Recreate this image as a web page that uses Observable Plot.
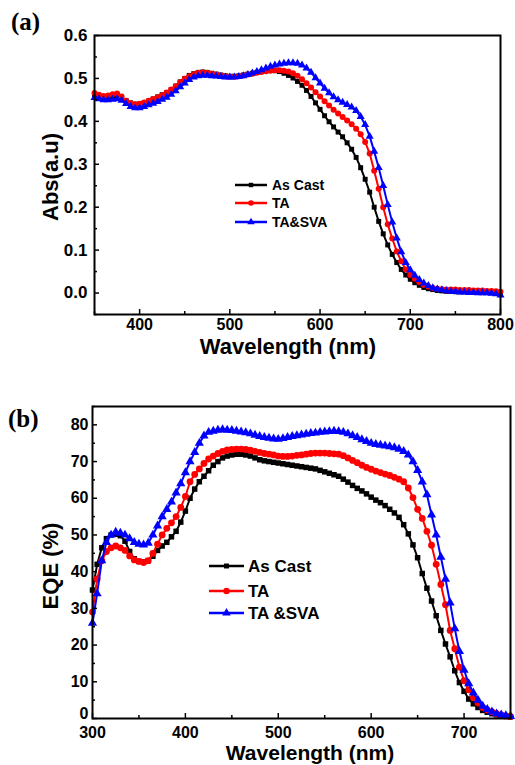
<!DOCTYPE html>
<html><head><meta charset="utf-8">
<script src="https://cdn.jsdelivr.net/npm/d3@7"></script>
<script src="https://cdn.jsdelivr.net/npm/@observablehq/plot@0.6"></script>
<style>
body{margin:0;background:#fff;}
#wrap{position:relative;width:515px;height:765px;overflow:hidden;font-family:"Liberation Sans",Arial,sans-serif;font-weight:bold;color:#000;}
.t{position:absolute;white-space:nowrap;line-height:1;}
.panel{position:absolute;left:0;}
.panel svg{overflow:visible;}
</style></head><body><div id="wrap"></div>
<script>
// ---------- Data ----------
const seriesNames = ["As Cast", "TA", "TA&SVA"];
const seriesNamesB = ["As Cast", "TA", "TA &SVA"];
const seriesColors = ["#000000", "#ff0000", "#0000ff"];
const seriesSymbols = ["square", "circle", "triangle"];

// (a) absorption, 350–800 nm, 5 nm steps
const absWavelengths = d3.range(350, 801, 5);
const absAsCast = [
  0.460,0.457,0.455,0.455,0.458,0.460,0.455,0.448,0.443,0.440,
  0.440,0.443,0.447,0.452,0.457,0.462,0.467,0.474,0.482,0.492,
  0.500,0.507,0.511,0.514,0.515,0.514,0.512,0.510,0.508,0.506,
  0.505,0.505,0.506,0.508,0.510,0.512,0.514,0.516,0.518,0.519,
  0.518,0.516,0.512,0.507,0.501,0.493,0.484,0.472,0.458,0.443,
  0.428,0.413,0.399,0.387,0.375,0.364,0.350,0.335,0.316,0.292,
  0.265,0.235,0.200,0.167,0.138,0.112,0.090,0.071,0.055,0.042,
  0.032,0.024,0.018,0.013,0.010,0.008,0.006,0.005,0.004,0.004,
  0.003,0.003,0.003,0.002,0.002,0.002,0.001,0.001,0.001,0.000,
  0.000];
const absTA = [
  0.466,0.462,0.459,0.460,0.463,0.465,0.458,0.448,0.442,0.440,
  0.441,0.444,0.448,0.452,0.456,0.461,0.467,0.474,0.482,0.491,
  0.499,0.505,0.510,0.513,0.514,0.513,0.511,0.509,0.507,0.505,
  0.504,0.504,0.505,0.507,0.509,0.511,0.513,0.515,0.517,0.518,
  0.519,0.519,0.518,0.516,0.512,0.506,0.498,0.489,0.479,0.468,
  0.458,0.447,0.437,0.427,0.418,0.410,0.402,0.393,0.383,0.370,
  0.352,0.325,0.285,0.243,0.200,0.160,0.127,0.097,0.074,0.055,
  0.042,0.033,0.025,0.019,0.015,0.012,0.010,0.009,0.008,0.008,
  0.008,0.007,0.007,0.007,0.006,0.006,0.006,0.005,0.005,0.004,
  0.003];
const absTASVA = [
  0.455,0.452,0.450,0.450,0.451,0.452,0.449,0.441,0.434,0.431,
  0.431,0.434,0.438,0.442,0.446,0.451,0.456,0.463,0.471,0.480,
  0.489,0.497,0.503,0.506,0.507,0.507,0.506,0.505,0.504,0.503,
  0.503,0.503,0.504,0.506,0.509,0.512,0.516,0.520,0.524,0.528,
  0.531,0.533,0.535,0.536,0.536,0.535,0.531,0.524,0.514,0.501,
  0.489,0.477,0.466,0.457,0.450,0.444,0.439,0.433,0.425,0.411,
  0.392,0.365,0.330,0.292,0.250,0.206,0.165,0.128,0.096,0.071,
  0.054,0.041,0.031,0.023,0.017,0.012,0.009,0.007,0.005,0.004,
  0.003,0.002,0.002,0.001,0.001,0.000,0.000,0.000,-0.001,-0.002,
  -0.005];

// (b) EQE, 300–750 nm, 5 nm steps
const eqeWavelengths = d3.range(300, 751, 5);
const eqeAsCast = [
  35,42,46.5,49,50,50.2,49.8,48.3,45.5,43.5,
  42.8,42.7,43,44.2,45.8,47,48,49.5,51,53.5,
  56.5,60,62.5,64.5,66,67.5,69,70,71,71.5,
  71.8,72,72,71.8,71.5,71,70.5,70.2,70,69.8,
  69.6,69.4,69.2,69,68.8,68.6,68.4,68.2,68,67.6,
  67.2,66.8,66.4,66,65.2,64.4,63.5,62.7,62,61.2,
  60.3,59.5,58.8,58,57,56,54.8,52.8,50.3,47.3,
  43.8,39.5,35.5,32,28,24,20.3,16.8,13,9.8,
  7.4,5.3,4,3,2.2,1.7,1.3,1,0.8,0.6,
  0.5];
const eqeTA = [
  29,38,43,45.5,46.5,47,46.5,45.8,44.3,43.2,
  42.8,42.5,43,45,47.5,50,51.8,53.3,55,57.5,
  60.5,64.5,66.5,68,69.5,70.7,71.5,72.2,72.8,73.2,
  73.3,73.4,73.4,73.3,73.1,72.8,72.5,72.2,72,71.8,
  71.5,71.4,71.4,71.5,71.7,71.8,72,72.2,72.3,72.3,
  72.3,72.2,72.1,72,71.6,71,70.3,69.7,69,68.4,
  67.9,67.4,67,66.6,66.2,65.7,65.2,64.5,62.8,60.2,
  57,54.5,51,47.2,42,36.5,31,24,19,14,
  10.3,7.8,5.7,4.2,3,2.3,1.8,1.3,1,0.7,
  0.5];
const eqeTASVA = [
  26,34,43,48,50,50.8,50.5,50,49,48,
  47.5,47.3,47.8,50,52.5,55,57,59,61.5,64,
  67,70,72.5,75,77,78,78.3,78.6,78.7,78.6,
  78.5,78.3,78.1,77.9,77.6,77.2,76.9,76.6,76.4,76.2,
  76.1,76.3,76.6,76.9,77.1,77.3,77.5,77.7,77.8,78,
  78.1,78.2,78.3,78.2,78,77.6,77.1,76.6,76,75.5,
  75,74.7,74.5,74.3,74.1,73.8,73.4,72.8,71.8,70,
  67.6,64.5,61,55.5,50,44,38,31.5,24.5,18.3,
  13.2,9.5,7,5,3.4,2.5,1.8,1.3,1,0.8,
  0.6];

// ticks
const absXLabels = [400, 500, 600, 700, 800];
const absXMinor = [350, 450, 550, 650, 750];
const absYLabels = [0.0, 0.1, 0.2, 0.3, 0.4, 0.5, 0.6];
const absYMinor = [-0.05, 0.05, 0.15, 0.25, 0.35, 0.45, 0.55];
const eqeXLabels = [300, 400, 500, 600, 700];
const eqeXMinor = [350, 450, 550, 650, 750];
const eqeYLabels = [0, 10, 20, 30, 40, 50, 60, 70, 80];
const eqeYMinor = [5, 15, 25, 35, 45, 55, 65, 75, 85];

// ---------- Drawing ----------
const wrap = document.getElementById("wrap");
const font = '"Liberation Sans", Arial, sans-serif';

function makePanel(cfg) {
  const innerW = cfg.width - cfg.ml - cfg.mr;
  const innerH = cfg.height - cfg.mt - cfg.mb;
  const marks = [];
  cfg.series.forEach((vals, i) => {
    const data = vals.map((v, j) => ({wl: cfg.wl[j], v}));
    marks.push(Plot.line(data, {x: "wl", y: "v", stroke: seriesColors[i], strokeWidth: 2}));
    marks.push(Plot.dot(data, {x: "wl", y: "v", fill: seriesColors[i], stroke: "none",
      symbol: seriesSymbols[i], r: cfg.r[i]}));
  });
  const yMain = cfg.yLabels.filter(d => d !== cfg.yLabels[0]);
  const yFirst = [cfg.yLabels[0]];
  marks.push(
    Plot.ruleX(cfg.xLabels, {insetTop: innerH - 5, strokeWidth: 1.5}),
    Plot.ruleX(cfg.xMinor, {insetTop: innerH - 3, strokeWidth: 1.5}),
    Plot.ruleY(cfg.yLabels, {insetRight: innerW - 5, strokeWidth: 1.5}),
    Plot.ruleY(cfg.yMinor, {insetRight: innerW - 3, strokeWidth: 1.5}),
    Plot.frame({strokeWidth: 2}),
    Plot.axisX(cfg.xLabels, {tickSize: 0, tickPadding: cfg.xPad, label: null,
      tickFormat: d => String(d), fontSize: cfg.fs, fontWeight: "bold"}),
    Plot.axisY(yMain, {tickSize: 0, tickPadding: cfg.yPad, label: null,
      tickFormat: cfg.yFormat, fontSize: cfg.yfs, fontWeight: "bold"}),
    Plot.axisY(yFirst, {tickSize: 0, tickPadding: cfg.yPad, label: null, dy: cfg.yFirstDy,
      tickFormat: cfg.yFormat, fontSize: cfg.yfs, fontWeight: "bold"})
  );
  const svg = Plot.plot({
    width: cfg.width, height: cfg.height,
    marginLeft: cfg.ml, marginRight: cfg.mr, marginTop: cfg.mt, marginBottom: cfg.mb,
    x: {domain: cfg.xDomain}, y: {domain: cfg.yDomain},
    style: {fontFamily: font, fontWeight: "bold", fontSize: cfg.fs + "px", color: "#000", background: "transparent", overflow: "visible"},
    marks
  });
  const div = document.createElement("div");
  div.className = "panel";
  div.style.top = cfg.top + "px";
  div.appendChild(svg);
  wrap.appendChild(div);
}

makePanel({
  top: 0, width: 515, height: 380, ml: 94, mr: 15, mt: 35, mb: 66,
  wl: absWavelengths, series: [absAsCast, absTA, absTASVA], r: [2.8, 3, 3],
  xDomain: [350, 800], yDomain: [-0.05, 0.6],
  xLabels: absXLabels, xMinor: absXMinor, yLabels: absYLabels, yMinor: absYMinor,
  yFormat: d => d.toFixed(1), fs: 16, yfs: 17, xPad: 4, yPad: 7, yFirstDy: 0
});
makePanel({
  top: 380, width: 515, height: 385, ml: 92, mr: 5, mt: 26, mb: 47,
  wl: eqeWavelengths, series: [eqeAsCast, eqeTA, eqeTASVA], r: [3.1, 3.4, 3.4],
  xDomain: [300, 750], yDomain: [0, 85],
  xLabels: eqeXLabels, xMinor: eqeXMinor, yLabels: eqeYLabels, yMinor: eqeYMinor,
  yFormat: d => String(d), fs: 16, yfs: 16, xPad: 8, yPad: 4, yFirstDy: -4.5
});

function addText(txt, css) {
  const d = document.createElement("div");
  d.className = "t";
  d.textContent = txt;
  Object.assign(d.style, css);
  wrap.appendChild(d);
  return d;
}
// panel letters
addText("(a)", {left: "11px", top: "9px", fontFamily: '"Liberation Serif", "Times New Roman", serif', fontSize: "25px"});
addText("(b)", {left: "8px", top: "406px", fontFamily: '"Liberation Serif", "Times New Roman", serif', fontSize: "25px"});
// axis titles
addText("Wavelength (nm)", {left: "288px", top: "337.5px", fontSize: "22px", lineHeight: "18px", transform: "translateX(-50%)"});
addText("Wavelength (nm)", {left: "310px", top: "744px", fontSize: "21px", lineHeight: "18px", transform: "translateX(-50%)"});
addText("Abs(a.u)", {left: "51px", top: "177px", fontSize: "22px", transform: "translate(-50%,-50%) rotate(-90deg)"});
addText("EQE (%)", {left: "51px", top: "566px", fontSize: "22px", transform: "translate(-50%,-50%) rotate(-90deg)"});

// legends
function addLegend(names, {left, ys, lineLen, gap, fs, r}) {
  names.forEach((name, i) => {
    const row = document.createElement("div");
    row.className = "t";
    Object.assign(row.style, {left: left + "px", top: (ys[i] - 8) + "px", height: "16px",
      display: "flex", alignItems: "center", fontSize: fs + "px"});
    const ns = "http://www.w3.org/2000/svg";
    const svg = document.createElementNS(ns, "svg");
    svg.setAttribute("width", lineLen); svg.setAttribute("height", 16);
    svg.style.overflow = "visible";
    const ln = document.createElementNS(ns, "line");
    ln.setAttribute("x1", 0); ln.setAttribute("x2", lineLen);
    ln.setAttribute("y1", 8); ln.setAttribute("y2", 8);
    ln.setAttribute("stroke", seriesColors[i]); ln.setAttribute("stroke-width", 2.5);
    svg.appendChild(ln);
    const types = {square: d3.symbolSquare, circle: d3.symbolCircle, triangle: d3.symbolTriangle};
    const p = document.createElementNS(ns, "path");
    p.setAttribute("d", d3.symbol(types[seriesSymbols[i]], Math.PI * r[i] * r[i])());
    p.setAttribute("transform", `translate(${lineLen / 2},8)`);
    p.setAttribute("fill", seriesColors[i]);
    svg.appendChild(p);
    row.appendChild(svg);
    const sp = document.createElement("span");
    sp.textContent = name;
    sp.style.marginLeft = gap + "px";
    row.appendChild(sp);
    wrap.appendChild(row);
  });
}
addLegend(seriesNames, {left: 235, ys: [185, 203, 222], lineLen: 32, gap: 5, fs: 14, r: [2.5, 2.8, 2.8]});
addLegend(seriesNamesB, {left: 209, ys: [566, 591, 613], lineLen: 35, gap: 4, fs: 17, r: [2.8, 3.2, 3.2]});
</script></body></html>
